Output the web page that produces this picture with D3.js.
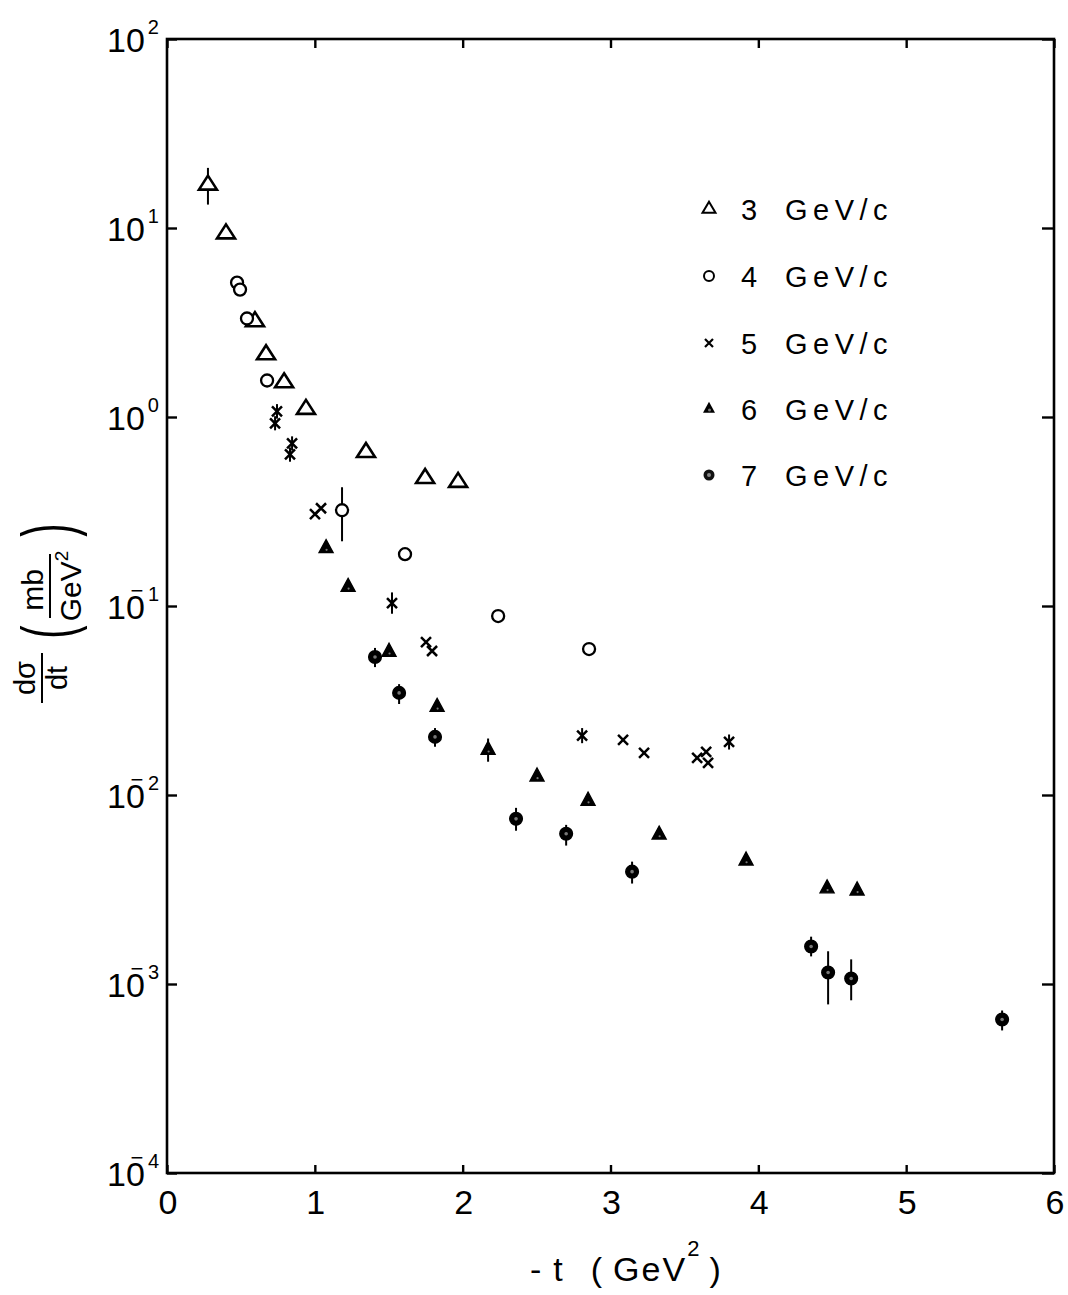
<!DOCTYPE html>
<html>
<head>
<meta charset="utf-8">
<script src="https://cdn.jsdelivr.net/npm/d3@7"></script>
<style>
  html, body { margin: 0; padding: 0; background: #fff; }
  text { font-family: "Liberation Sans", Arial, sans-serif; fill: #000; }
</style>
</head>
<body>
<svg id="chart" width="1068" height="1295"></svg>
<script>
// Differential cross section dσ/dt versus -t for five beam momenta.

const seriesLabels = ["3", "4", "5", "6", "7"];
const unitLabel = "GeV/c";

// 3 GeV/c (open triangles)
const t3  = [0.277, 0.399, 0.595, 0.670, 0.792, 0.940, 1.346, 1.746, 1.969];
const ds3 = [16.9, 9.33, 3.20, 2.14, 1.52, 1.10, 0.650, 0.474, 0.452];
const lo3 = [13.3, null, null, null, null, null, null, null, null];
const hi3 = [20.8, null, null, null, null, null, null, null, null];

// 4 GeV/c (open circles)
const t4  = [0.474, 0.494, 0.541, 0.677, 1.184, 1.610, 2.240, 2.855];
const ds4 = [5.14, 4.72, 3.32, 1.56, 0.321, 0.188, 0.0885, 0.0592];
const lo4 = [null, null, null, null, 0.220, null, null, null];
const hi4 = [null, null, null, null, 0.425, null, null, null];

// 5 GeV/c (crosses)
const t5  = [0.744, 0.731, 0.846, 0.832, 1.001, 1.042, 1.522, 1.752, 1.793,
             2.808, 3.085, 3.227, 3.586, 3.647, 3.660, 3.802];
const ds5 = [1.07, 0.925, 0.726, 0.634, 0.306, 0.329, 0.1035, 0.0644, 0.0578,
             0.0206, 0.0196, 0.0167, 0.0157, 0.0169, 0.0148, 0.0191];
const lo5 = [0.98, 0.85, 0.665, 0.58, null, null, 0.091, null, null,
             0.0188, null, null, null, null, null, 0.0174];
const hi5 = [1.17, 1.01, 0.79, 0.69, null, null, 0.118, null, null,
             0.0226, null, null, null, null, null, 0.0209];

// 6 GeV/c (filled triangles)
const t6  = [1.076, 1.225, 1.502, 1.827, 2.172, 2.503, 2.848, 3.329, 3.917, 4.465, 4.668];
const ds6 = [0.202, 0.126, 0.0571, 0.0292, 0.0173, 0.0125, 0.00931, 0.00616, 0.00449, 0.00320, 0.00312];
const lo6 = [null, null, null, null, 0.0150, null, null, null, null, null, null];
const hi6 = [null, null, null, null, 0.0199, null, null, null, null, null, null];

// 7 GeV/c (filled circles)
const t7  = [1.407, 1.570, 1.813, 2.361, 2.700, 3.146, 4.357, 4.472, 4.628, 5.649];
const ds7 = [0.0537, 0.0347, 0.0203, 0.00748, 0.00624, 0.00393, 0.00158, 0.00115, 0.00107, 0.000649];
const lo7 = [0.0475, 0.0303, 0.0180, 0.00647, 0.00540, 0.00340, 0.00140, 0.00078, 0.00082, 0.000568];
const hi7 = [0.0600, 0.0386, 0.0226, 0.00855, 0.00695, 0.00444, 0.00178, 0.00149, 0.00135, 0.000724];

const xTicks = [0, 1, 2, 3, 4, 5, 6];
const yExponents = [2, 1, 0, -1, -2, -3, -4];

const svg = d3.select("#chart");

const x = d3.scaleLinear().domain([0, 6]).range([167, 1054]);
const y = d3.scaleLog().domain([1e-4, 1e2]).range([1173, 39]);

// ---- frame ----
svg.append("rect")
  .attr("x", x(0)).attr("y", y(1e2))
  .attr("width", x(6) - x(0)).attr("height", y(1e-4) - y(1e2))
  .attr("fill", "none").attr("stroke", "#000").attr("stroke-width", 2.6);

// ---- inward ticks on all four sides ----
function ticksOnly(axis, transform) {
  const g = svg.append("g").attr("transform", transform).call(axis);
  g.select(".domain").remove();
  g.selectAll(".tick line").attr("stroke", "#000").attr("stroke-width", 2.4);
  g.selectAll(".tick text").remove();
  return g;
}
const decades = yExponents.map(e => Math.pow(10, e));
ticksOnly(d3.axisLeft(y).tickValues(decades).tickSize(-10), `translate(${x(0)},0)`);
ticksOnly(d3.axisRight(y).tickValues(decades).tickSize(-12), `translate(${x(6)},0)`);
ticksOnly(d3.axisBottom(x).tickValues(xTicks).tickSize(-8), `translate(0,${y(1e-4)})`);
ticksOnly(d3.axisTop(x).tickValues(xTicks).tickSize(-9), `translate(0,${y(1e2)})`);

// ---- x tick labels ----
svg.append("g").selectAll("text").data(xTicks).join("text")
  .attr("x", d => x(d) + 1)
  .attr("y", 1214)
  .attr("text-anchor", "middle")
  .attr("font-size", 34)
  .text(d => d);

// ---- y tick labels: 10 with exponent (minus sign set above the 0) ----
const yl = svg.append("g");
yExponents.forEach(e => {
  const ty = y(Math.pow(10, e));
  const t = yl.append("text").attr("x", 107).attr("y", ty + 13).attr("font-size", 34);
  t.append("tspan").text("10");
  if (e < 0) {
    t.append("tspan").attr("dx", -14.4).attr("dy", -21).attr("font-size", 22).text("\u2212");
    t.append("tspan").attr("dx", 4.6).attr("dy", 3).attr("font-size", 20).text(Math.abs(e));
  } else {
    t.append("tspan").attr("dx", 3).attr("dy", -18).attr("font-size", 20).text(e);
  }
});

// ---- x axis title ----
const xt = svg.append("text").attr("x", 530).attr("y", 1281).attr("font-size", 34);
xt.append("tspan").text("-");
xt.append("tspan").attr("dx", 12).text("t");
xt.append("tspan").attr("dx", 28).text("(");
xt.append("tspan").attr("dx", 11).attr("letter-spacing", 2).text("GeV");
xt.append("tspan").attr("dy", -25).attr("font-size", 22).text("2");
xt.append("tspan").attr("dy", 25).attr("dx", 10).text(")");

// ---- y axis title ----
const yt = svg.append("g").attr("transform", "translate(50,610) rotate(-90)");
yt.append("text").attr("x", -68).attr("y", -15).attr("text-anchor", "middle").attr("font-size", 29).text("d\u03c3");
yt.append("line").attr("x1", -93).attr("x2", -43).attr("y1", -8).attr("y2", -8)
  .attr("stroke", "#000").attr("stroke-width", 2);
yt.append("text").attr("x", -68).attr("y", 17).attr("text-anchor", "middle").attr("font-size", 29).text("dt");
yt.append("text").attr("transform", "translate(-22,22) scale(1,1.8)")
  .attr("text-anchor", "middle").attr("font-size", 40).text("(");
yt.append("text").attr("transform", "translate(80,22) scale(1,1.8)")
  .attr("text-anchor", "middle").attr("font-size", 40).text(")");
yt.append("text").attr("x", 20).attr("y", -7).attr("text-anchor", "middle").attr("font-size", 30).text("mb");
yt.append("line").attr("x1", -8).attr("x2", 56).attr("y1", 0).attr("y2", 0)
  .attr("stroke", "#000").attr("stroke-width", 2);
const gev = yt.append("text").attr("x", 24).attr("y", 31).attr("text-anchor", "middle").attr("font-size", 30);
gev.append("tspan").text("GeV");
gev.append("tspan").attr("dy", -13).attr("font-size", 19).text("2");

// ---- marker shapes ----
function triPath(w, h) {
  // centred on the centroid
  return `M0,${-2 * h / 3}L${w / 2},${h / 3}L${-w / 2},${h / 3}Z`;
}
function crossPath(a) {
  return `M${-a},${-a}L${a},${a}M${-a},${a}L${a},${-a}`;
}

const markerStyles = [
  sel => sel.append("path").attr("d", triPath(18, 14)).attr("fill", "#fff").attr("stroke", "#000").attr("stroke-width", 2.6),
  sel => sel.append("circle").attr("r", 6).attr("fill", "#fff").attr("stroke", "#000").attr("stroke-width", 2.3),
  sel => sel.append("path").attr("d", crossPath(5)).attr("fill", "none").attr("stroke", "#000").attr("stroke-width", 2.5),
  sel => {
    sel.append("path").attr("d", triPath(14, 13)).attr("fill", "#000").attr("stroke", "#000").attr("stroke-width", 1.4);
    sel.append("circle").attr("cx", 0.5).attr("cy", 1.5).attr("r", 1.1).attr("fill", "#777");
  },
  sel => {
    sel.append("circle").attr("r", 6.3).attr("fill", "#000").attr("stroke", "#000").attr("stroke-width", 1.5);
    sel.append("circle").attr("r", 1.8).attr("fill", "#777");
  }
];

const series = [
  { t: t3, v: ds3, lo: lo3, hi: hi3 },
  { t: t4, v: ds4, lo: lo4, hi: hi4 },
  { t: t5, v: ds5, lo: lo5, hi: hi5 },
  { t: t6, v: ds6, lo: lo6, hi: hi6 },
  { t: t7, v: ds7, lo: lo7, hi: hi7 }
];

const plot = svg.append("g");
series.forEach((s, k) => {
  const pts = s.t.map((t, i) => ({ t, v: s.v[i], lo: s.lo[i], hi: s.hi[i] }));
  const g = plot.append("g");
  // error bars
  g.selectAll("line").data(pts.filter(d => d.lo != null)).join("line")
    .attr("x1", d => x(d.t)).attr("x2", d => x(d.t))
    .attr("y1", d => y(d.hi)).attr("y2", d => y(d.lo))
    .attr("stroke", "#000").attr("stroke-width", 2);
  // markers
  g.selectAll("g.pt").data(pts).join("g").attr("class", "pt")
    .attr("transform", d => `translate(${x(d.t)},${y(d.v)})`)
    .each(function () { markerStyles[k](d3.select(this)); });
});

// ---- legend ----
const legendY = [211, 278, 345, 411, 477];
const lg = svg.append("g");
const legendMarkers = [
  sel => sel.append("path").attr("d", triPath(13, 11)).attr("fill", "#fff").attr("stroke", "#000").attr("stroke-width", 2),
  sel => sel.append("circle").attr("r", 5).attr("fill", "#fff").attr("stroke", "#000").attr("stroke-width", 2),
  sel => sel.append("path").attr("d", crossPath(4)).attr("stroke", "#000").attr("stroke-width", 2.2),
  sel => {
    sel.append("path").attr("d", triPath(12, 11)).attr("fill", "#000");
    sel.append("circle").attr("cx", 0.5).attr("cy", 1).attr("r", 1.5).attr("fill", "#777");
  },
  sel => {
    sel.append("circle").attr("r", 5.5).attr("fill", "#111");
    sel.append("circle").attr("r", 2).attr("fill", "#888");
  }
];
seriesLabels.forEach((lab, i) => {
  const m = lg.append("g").attr("transform", `translate(709,${legendY[i] - 2})`);
  legendMarkers[i](m);
  lg.append("text").attr("x", 741).attr("y", legendY[i] + 9).attr("font-size", 29).text(lab);
  lg.append("text").attr("x", 785).attr("y", legendY[i] + 9).attr("font-size", 29)
    .attr("letter-spacing", 5.5).text(unitLabel);
});
</script>
</body>
</html>
